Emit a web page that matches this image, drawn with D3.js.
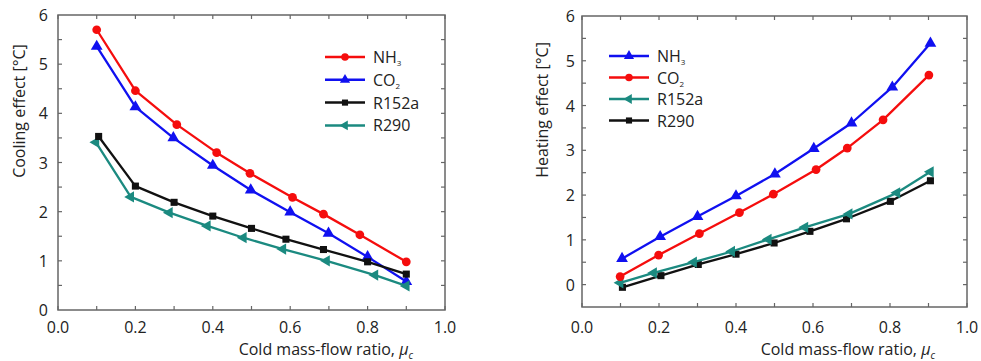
<!DOCTYPE html>
<html>
<head>
<meta charset="utf-8">
<script src="https://cdn.jsdelivr.net/npm/d3@7"></script>
<style>
  body { margin: 0; background: #fff; }
  svg { display: block; font-family: "Open Sans", sans-serif; }
</style>
</head>
<body>
<div id="chart"></div>
<script>
"use strict";

// x ticks shared by both panels
var xTickLabels = ["0.0", "0.2", "0.4", "0.6", "0.8", "1.0"];

// left panel: cooling effect
var coolNH3X = [0.10, 0.20, 0.307, 0.41, 0.496, 0.606, 0.686, 0.78, 0.90];
var coolNH3Y = [5.70, 4.46, 3.77, 3.20, 2.78, 2.29, 1.95, 1.53, 0.98];
var coolCO2X = [0.10, 0.20, 0.298, 0.40, 0.498, 0.60, 0.699, 0.80, 0.90];
var coolCO2Y = [5.36, 4.13, 3.50, 2.94, 2.44, 1.99, 1.56, 1.08, 0.58];
var coolR152aX = [0.105, 0.20, 0.30, 0.40, 0.50, 0.589, 0.686, 0.80, 0.90];
var coolR152aY = [3.53, 2.52, 2.19, 1.91, 1.66, 1.44, 1.23, 0.98, 0.73];
var coolR290X = [0.098, 0.188, 0.288, 0.386, 0.479, 0.581, 0.694, 0.819, 0.90];
var coolR290Y = [3.41, 2.30, 1.98, 1.71, 1.47, 1.24, 1.00, 0.71, 0.49];

// right panel: heating effect
var heatNH3X = [0.104, 0.203, 0.30, 0.40, 0.501, 0.602, 0.70, 0.806, 0.905];
var heatNH3Y = [0.58, 1.07, 1.52, 1.98, 2.47, 3.04, 3.61, 4.41, 5.39];
var heatCO2X = [0.099, 0.199, 0.305, 0.409, 0.497, 0.608, 0.689, 0.782, 0.901];
var heatCO2Y = [0.18, 0.66, 1.14, 1.61, 2.02, 2.57, 3.05, 3.68, 4.68];
var heatR152aX = [0.099, 0.186, 0.29, 0.389, 0.484, 0.579, 0.694, 0.818, 0.905];
var heatR152aY = [0.04, 0.26, 0.50, 0.74, 1.01, 1.28, 1.58, 2.05, 2.52];
var heatR290X = [0.105, 0.205, 0.302, 0.40, 0.499, 0.592, 0.687, 0.801, 0.905];
var heatR290Y = [-0.06, 0.20, 0.45, 0.68, 0.93, 1.19, 1.47, 1.86, 2.32];

var RED = "#f50d0d", BLUE = "#1010f0", BLACK = "#111111", TEAL = "#1b8a80";

function zip(xs, ys) {
  return xs.map(function (x, i) { return { x: x, y: ys[i] }; });
}

var svg = d3.select("#chart").append("svg")
  .attr("width", 981).attr("height", 361);

// marker shapes
var shapes = {
  circle: { type: d3.symbolCircle, size: 60, rot: 0 },
  tri: { type: d3.symbolTriangle, size: 60, rot: 0 },
  square: { type: d3.symbolSquare, size: 50, rot: 0 },
  left: { type: d3.symbolTriangle, size: 55, rot: -90 }
};

function drawMarker(g, shape, color, x, y, scale) {
  var s = shapes[shape];
  g.append("path")
    .attr("d", d3.symbol().type(s.type).size(s.size * (scale || 1))())
    .attr("transform", "translate(" + x + "," + y + ") rotate(" + s.rot + ")")
    .attr("fill", color);
}

function subLabel(t, main, sub) {
  t.append("tspan").text(main);
  if (sub) {
    t.append("tspan").text(sub)
      .attr("font-size", 8).attr("dy", 3);
  }
}

var panel = function (cfg) {
  var x = d3.scaleLinear().domain([0, 1]).range([cfg.left, cfg.right]);
  var y = d3.scaleLinear().domain(cfg.yDomain).range([cfg.bottom, cfg.top]);
  var g = svg.append("g");

  // ticks inside the frame, all four sides
  var frame = g.append("g").attr("stroke", "#666").attr("stroke-width", 1.2);
  d3.range(0, 11).forEach(function (i) {
    var xv = x(i / 10);
    frame.append("line").attr("x1", xv).attr("x2", xv)
      .attr("y1", cfg.bottom).attr("y2", cfg.bottom - 4);
    frame.append("line").attr("x1", xv).attr("x2", xv)
      .attr("y1", cfg.top).attr("y2", cfg.top + 4);
  });
  cfg.yTicks.forEach(function (v) {
    frame.append("line").attr("x1", cfg.left).attr("x2", cfg.left + 4)
      .attr("y1", y(v)).attr("y2", y(v));
    frame.append("line").attr("x1", cfg.right).attr("x2", cfg.right - 4)
      .attr("y1", y(v)).attr("y2", y(v));
  });
  frame.append("rect")
    .attr("x", cfg.left).attr("y", cfg.top)
    .attr("width", cfg.right - cfg.left).attr("height", cfg.bottom - cfg.top)
    .attr("fill", "none").attr("stroke-width", 1.5);

  // tick labels
  xTickLabels.forEach(function (lab) {
    g.append("text").attr("x", x(+lab)).attr("y", 333)
      .attr("text-anchor", "middle").attr("font-size", 16).attr("fill", "#222")
      .text(lab);
  });
  cfg.yLabels.forEach(function (v) {
    g.append("text").attr("x", cfg.left - cfg.yLabGap).attr("y", y(v) + 6)
      .attr("text-anchor", "end").attr("font-size", 16).attr("fill", "#222")
      .text(v);
  });

  // axis titles
  var xt = g.append("text").attr("x", cfg.right - 32).attr("y", 355)
    .attr("text-anchor", "end").attr("font-size", 16).attr("fill", "#222");
  xt.append("tspan").text("Cold mass-flow ratio, ");
  xt.append("tspan").text("μ").attr("font-style", "italic");
  xt.append("tspan").text("c").attr("font-style", "italic")
    .attr("font-size", 10).attr("dy", 4);

  g.append("text")
    .attr("transform", "translate(" + cfg.yTitleX + "," + cfg.yTitleY + ") rotate(-90)")
    .attr("text-anchor", "middle").attr("font-size", 16).attr("fill", "#222")
    .text(cfg.yTitle);

  var line = d3.line().x(function (d) { return x(d.x); }).y(function (d) { return y(d.y); });

  // draw series in order
  cfg.series.forEach(function (s) {
    var pts = zip(s.xs, s.ys);
    g.append("path").datum(pts)
      .attr("d", line).attr("fill", "none")
      .attr("stroke", s.color).attr("stroke-width", 2.3)
      .attr("stroke-linejoin", "round");
    pts.forEach(function (p) {
      drawMarker(g, s.shape, s.color, x(p.x), y(p.y), 1);
    });
  });

  // legend
  cfg.legend.forEach(function (s, i) {
    var ly = cfg.legY + i * cfg.legStep;
    g.append("line")
      .attr("x1", cfg.legX).attr("x2", cfg.legX + 40)
      .attr("y1", ly).attr("y2", ly)
      .attr("stroke", s.color).attr("stroke-width", 2.5);
    drawMarker(g, s.shape, s.color, cfg.legX + 20, ly, 0.75);
    var t = g.append("text").attr("x", cfg.legX + 48).attr("y", ly + 6)
      .attr("font-size", 16).attr("fill", "#222");
    subLabel(t, s.name, s.sub);
  });
};

panel({
  left: 58, right: 445, top: 15, bottom: 310,
  yDomain: [0, 6],
  yTicks: d3.range(0.5, 6, 0.5),
  yLabels: [0, 1, 2, 3, 4, 5, 6],
  yLabGap: 10,
  yTitle: "Cooling effect [°C]",
  yTitleX: 25, yTitleY: 111,
  series: [
    { color: BLUE, shape: "tri", xs: coolCO2X, ys: coolCO2Y },
    { color: RED, shape: "circle", xs: coolNH3X, ys: coolNH3Y },
    { color: TEAL, shape: "left", xs: coolR290X, ys: coolR290Y },
    { color: BLACK, shape: "square", xs: coolR152aX, ys: coolR152aY }
  ],
  legX: 325, legY: 57, legStep: 22.8,
  legend: [
    { name: "NH", sub: "3", color: RED, shape: "circle" },
    { name: "CO", sub: "2", color: BLUE, shape: "tri" },
    { name: "R152a", color: BLACK, shape: "square" },
    { name: "R290", color: TEAL, shape: "left" }
  ]
});

panel({
  left: 582, right: 967, top: 16, bottom: 307,
  yDomain: [-0.5, 6],
  yTicks: d3.range(0, 6, 0.5),
  yLabels: [0, 1, 2, 3, 4, 5, 6],
  yLabGap: 7,
  yTitle: "Heating effect [°C]",
  yTitleX: 548, yTitleY: 110,
  series: [
    { color: BLACK, shape: "square", xs: heatR290X, ys: heatR290Y },
    { color: TEAL, shape: "left", xs: heatR152aX, ys: heatR152aY },
    { color: RED, shape: "circle", xs: heatCO2X, ys: heatCO2Y },
    { color: BLUE, shape: "tri", xs: heatNH3X, ys: heatNH3Y }
  ],
  legX: 609, legY: 56, legStep: 21.5,
  legend: [
    { name: "NH", sub: "3", color: BLUE, shape: "tri" },
    { name: "CO", sub: "2", color: RED, shape: "circle" },
    { name: "R152a", color: TEAL, shape: "left" },
    { name: "R290", color: BLACK, shape: "square" }
  ]
});
</script>
</body>
</html>
